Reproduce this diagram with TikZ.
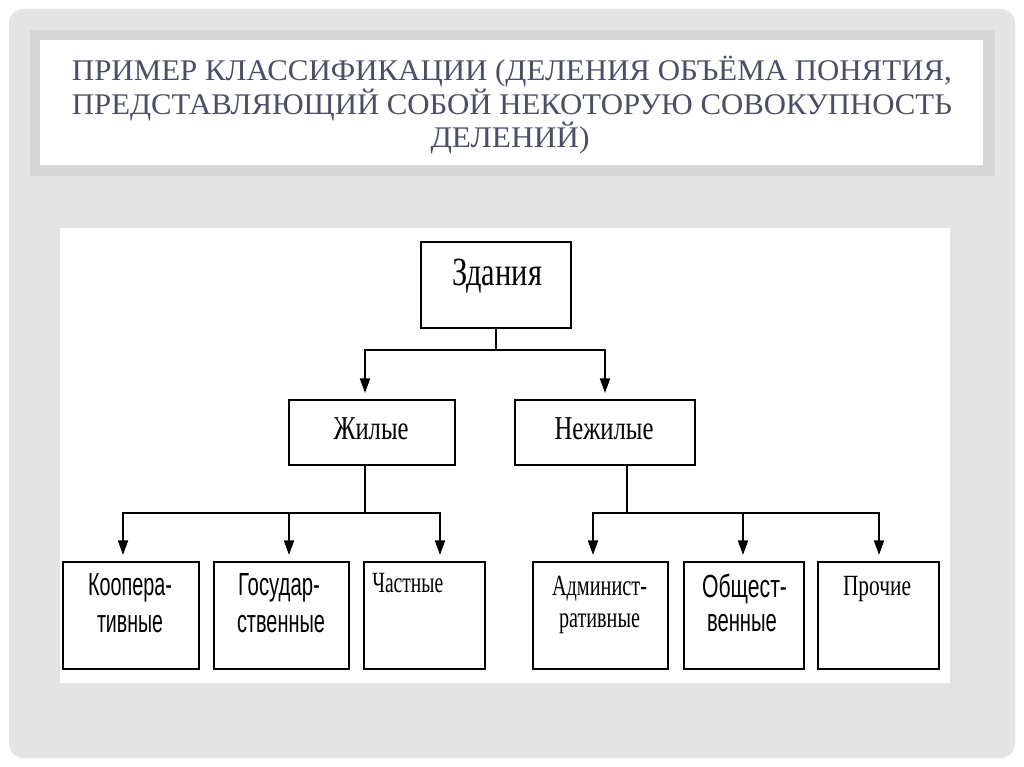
\documentclass[tikz,border=0pt]{standalone}
\usepackage{fontspec}
\setmainfont{Liberation Serif}
\newfontfamily\sansf{Liberation Sans}
\usetikzlibrary{arrows.meta}
\newlength\px \setlength\px{0.75pt}
\newcommand{\hw}[2]{\resizebox{#1\px}{\height}{#2}}
\definecolor{bgc}{HTML}{E4E4E4}
\definecolor{bandc}{HTML}{D6D6D6}
\definecolor{titlec}{HTML}{4A4E69}
\tikzset{
  box/.style={draw=black, line width=1.5pt, fill=white, inner sep=0pt},
  arr/.style={draw=black, line width=1.5pt, -{Triangle[length=11pt,width=7.5pt]}, shorten >=6\px},
  ttl/.style={anchor=base, inner sep=0pt, text=titlec, font=\fontsize{22.5}{27}\selectfont},
  lab/.style={anchor=base, inner sep=0pt, text=black},
  serifbig/.style={font=\fontsize{30}{34}\selectfont},
  serifmid/.style={font=\fontsize{25}{30}\selectfont},
  serifsm/.style={font=\fontsize{22}{26}\selectfont},
  sanssm/.style={font=\sansf\fontsize{24}{28}\selectfont},
}
\begin{document}
\begin{tikzpicture}[x=0.75pt,y=-0.75pt]
\useasboundingbox (0,0) rectangle (1024,767);
\fill[white] (0,0) rectangle (1024,767);
\fill[bgc, rounded corners=14\px] (9,9) rectangle (1015,758);
\fill[bandc] (30,30) rectangle (995,176);
\fill[white] (40,40) rectangle (983,165);
\fill[white] (60,228) rectangle (950,683);

% title
\node[ttl] (t1) at (512,81) {\hw{880}{ПРИМЕР КЛАССИФИКАЦИИ (ДЕЛЕНИЯ ОБЪЁМА ПОНЯТИЯ,}};
\node[ttl] (t2) at (512,114) {\hw{880}{ПРЕДСТАВЛЯЮЩИЙ СОБОЙ НЕКОТОРУЮ СОВОКУПНОСТЬ}};
\node[ttl] (t3) at (510,147) {\hw{159}{ДЕЛЕНИЙ)}};

% boxes
\node[box, minimum width=150\px, minimum height=86\px] (zd) at (496,285) {};
\node[box, minimum width=166\px, minimum height=65\px] (zh) at (372,432.5) {};
\node[box, minimum width=180\px, minimum height=65\px] (nz) at (605,432.5) {};
\node[box, minimum width=136\px, minimum height=107\px] (b1) at (131,615.5) {};
\node[box, minimum width=135\px, minimum height=107\px] (b2) at (281.5,615.5) {};
\node[box, minimum width=121\px, minimum height=107\px] (b3) at (424.5,615.5) {};
\node[box, minimum width=135\px, minimum height=107\px] (b4) at (600.5,615.5) {};
\node[box, minimum width=120\px, minimum height=107\px] (b5) at (744,615.5) {};
\node[box, minimum width=121\px, minimum height=107\px] (b6) at (878.5,615.5) {};

% labels
\node[lab, serifbig] (zdl) at (497,285) {\hw{90}{Здания}};
\node[lab, serifmid] (zhl) at (371,439) {\hw{75}{Жилые}};
\node[lab, serifmid] (nzl) at (604,439) {\hw{99}{Нежилые}};
\node[lab, sanssm] (b1a) at (130,595) {\hw{84}{Коопера-}};
\node[lab, sanssm] (b1b) at (130,632) {\hw{66}{тивные}};
\node[lab, sanssm] (b2a) at (279,595) {\hw{82}{Государ-}};
\node[lab, sanssm] (b2b) at (281,632) {\hw{88}{ственные}};
\node[lab, serifsm, anchor=base west] (b3a) at (372,592) {\hw{71}{Частные}};
\node[lab, serifsm] (b4a) at (599.5,595) {\hw{95}{Админист-}};
\node[lab, serifsm] (b4b) at (599.5,627) {\hw{81}{ративные}};
\node[lab, sanssm] (b5a) at (744.5,597) {\hw{85}{Общест-}};
\node[lab, sanssm] (b5b) at (742,631) {\hw{70}{венные}};
\node[lab, serifsm] (b6a) at (877,595) {\hw{68}{Прочие}};

% connectors
\draw[arr] (zd.south) -- ++(0,21) -| ([xshift=-7\px]zh.north);
\draw[arr] (zd.south) -- ++(0,21) -| (nz.north);
\draw[arr] ([xshift=-7\px]zh.south) -- ++(0,47) -| ([xshift=-8\px]b1.north);
\draw[arr] ([xshift=-7\px]zh.south) -- ++(0,47) -| ([xshift=7.5\px]b2.north);
\draw[arr] ([xshift=-7\px]zh.south) -- ++(0,47) -| ([xshift=15.5\px]b3.north);
\draw[arr] ([xshift=22\px]nz.south) -- ++(0,47) -| ([xshift=-7.5\px]b4.north);
\draw[arr] ([xshift=22\px]nz.south) -- ++(0,47) -| ([xshift=-1\px]b5.north);
\draw[arr] ([xshift=22\px]nz.south) -- ++(0,47) -| ([xshift=0.5\px]b6.north);
\end{tikzpicture}
\end{document}
